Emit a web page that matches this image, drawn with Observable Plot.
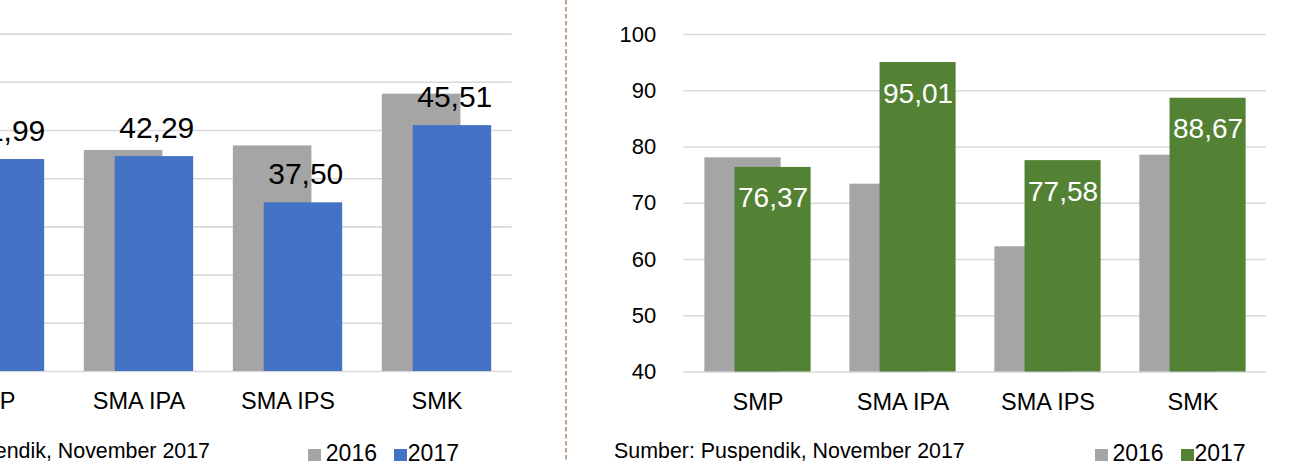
<!DOCTYPE html>
<html><head><meta charset="utf-8">
<script src="https://cdn.jsdelivr.net/npm/d3@7"></script>
<script src="https://cdn.jsdelivr.net/npm/@observablehq/plot@0.6"></script>
<style>
html,body{margin:0;padding:0;background:#fff;}
#wrap{position:relative;width:1304px;height:461px;overflow:hidden;font-family:"Liberation Sans",Arial,sans-serif;color:#000;}
.abs{position:absolute;white-space:nowrap;}
.sw{position:absolute;width:12.5px;height:12.5px;}
</style></head><body><div id="wrap"></div>
<script>
// ---- data ----
const categories = ["SMP", "SMA IPA", "SMA IPS", "SMK"];
const years = ["2016", "2017"];
const left2016 = [41.6, 42.93, 43.40, 48.77];
const left2017 = [41.99, 42.29, 37.50, 45.51];
const right2016 = [78.08, 73.39, 62.26, 78.55];
const right2017 = [76.37, 95.01, 77.58, 88.67];
const leftTicks = [20, 25, 30, 35, 40, 45, 50, 55];
const rightTicks = [40, 50, 60, 70, 80, 90, 100];
const sourceText = "Sumber: Puspendik, November 2017";

const GRAY = "#a5a5a5", BLUE = "#4472c4", GREEN = "#548235";
const fmt = v => v.toFixed(2).replace(".", ",");
const rows = (vals) => categories.map((c, i) => ({cat: c, value: vals[i]}));

function panel({v16, v17, color, ticks, width, ml, mr, mt, mb, labelInside, showY}) {
  const lo = ticks[0], hi = ticks[ticks.length - 1];
  const bw = (width - ml - mr) / categories.length;
  const d16 = rows(v16), d17 = rows(v17);
  return Plot.plot({
    width, height: 461,
    marginLeft: ml, marginRight: mr, marginTop: mt, marginBottom: mb,
    style: {fontFamily: "'Liberation Sans', Arial, sans-serif", fontSize: "22px", background: "none", color: "#000", maxWidth: "none", overflow: "visible"},
    x: {type: "band", domain: categories, padding: 0},
    y: showY ? {domain: [lo, hi]} : {domain: [lo, hi], axis: null},
    marks: [
      Plot.gridY(ticks, {stroke: "#d9d9d9", strokeOpacity: 1, strokeWidth: 1.6}),
      Plot.barY(d16, {x: "cat", y1: lo, y2: "value", fill: GRAY, insetLeft: 0.133 * bw, insetRight: (1 - 0.661) * bw}),
      Plot.barY(d17, {x: "cat", y1: lo, y2: "value", fill: color, insetLeft: 0.34 * bw, insetRight: (1 - 0.867) * bw}),
      labelInside
        ? Plot.text(d17, {x: "cat", y: "value", text: d => fmt(d.value), dx: 0.1035 * bw, dy: 40, lineAnchor: "bottom", fontSize: 28, fill: "#fff"})
        : Plot.text(d17, {x: "cat", y: "value", text: d => fmt(d.value), dx: 0.1035 * bw + 2.3, dy: -19, lineAnchor: "bottom", fontSize: 30, fill: "#000"}),
      Plot.axisX({tickSize: 0, tickPadding: 21.3, fontSize: 23.5, label: null, fill: "#000"}),
      showY ? Plot.axisY({ticks, tickSize: 0, tickPadding: 27.6, fontSize: 22, label: null, tickFormat: d => String(d), fill: "#000"}) : null
    ]
  });
}

const wrap = document.getElementById("wrap");

// left panel (cropped on the left)
const leftDiv = document.createElement("div");
leftDiv.className = "abs";
leftDiv.style.left = "-200px"; leftDiv.style.top = "0px";
leftDiv.appendChild(panel({v16: left2016, v17: left2017, color: BLUE, ticks: leftTicks,
  width: 740, ml: 114.8, mr: 28.4, mt: 33.6, mb: 90, labelInside: false, showY: false}));
wrap.appendChild(leftDiv);

// right panel
const rightDiv = document.createElement("div");
rightDiv.className = "abs";
rightDiv.style.left = "560px"; rightDiv.style.top = "0px";
const rightSvg = panel({v16: right2016, v17: right2017, color: GREEN, ticks: rightTicks,
  width: 744, ml: 123.3, mr: 38, mt: 34, mb: 89.5, labelInside: true, showY: true});
d3.select(rightSvg).append("line")
  .attr("x1", 6).attr("x2", 6).attr("y1", 0).attr("y2", 461)
  .attr("stroke", "#b98a63").attr("stroke-width", 1.6).attr("stroke-dasharray", "4.5 2.5");
rightDiv.appendChild(rightSvg);
wrap.appendChild(rightDiv);

// sources
function addText(txt, style) {
  const d = document.createElement("div");
  d.className = "abs"; d.textContent = txt;
  Object.assign(d.style, style);
  wrap.appendChild(d);
}
addText(sourceText, {right: (1304 - 210) + "px", top: "440.5px", fontSize: "21.4px", lineHeight: "21px"});
addText(sourceText, {left: "614px", top: "440.5px", fontSize: "21.4px", lineHeight: "21px"});

// legends
function legend(x0, colors) {
  const offsets = [[0, 17.5], [86, 99.5]];
  years.forEach((y, i) => {
    const sw = document.createElement("div");
    sw.className = "sw";
    sw.style.left = (x0 + offsets[i][0]) + "px"; sw.style.top = "448.5px";
    sw.style.background = colors[i];
    wrap.appendChild(sw);
    addText(y, {left: (x0 + offsets[i][1]) + "px", top: "442px", fontSize: "23px", lineHeight: "23px"});
  });
}
legend(308.3, [GRAY, BLUE]);
legend(1095, [GRAY, GREEN]);
</script></body></html>
